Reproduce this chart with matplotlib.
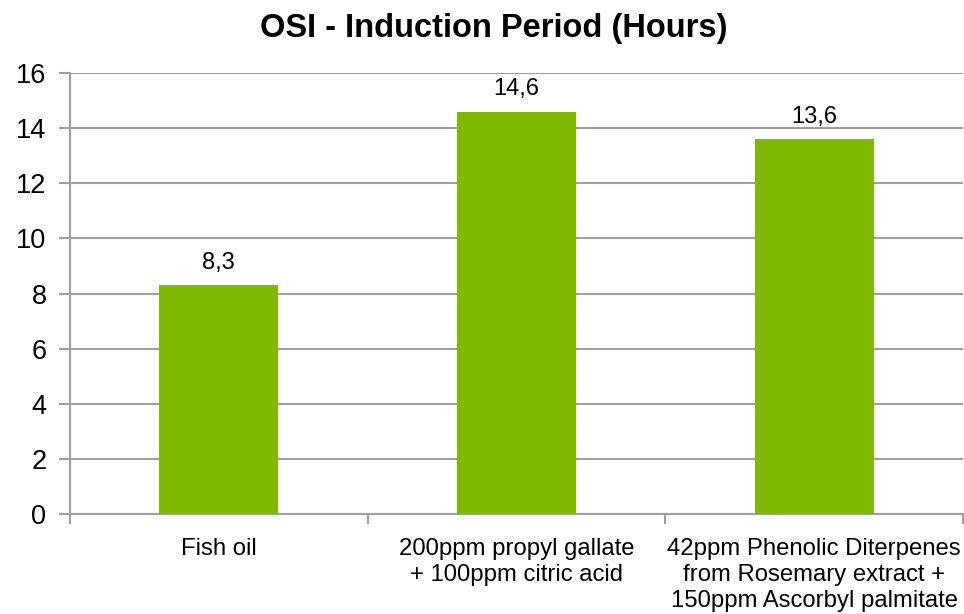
import matplotlib
matplotlib.use('Agg')
import matplotlib.pyplot as plt
import numpy as np

plt.rcParams['font.family'] = ['Liberation Sans', 'DejaVu Sans']

categories = ['Fish oil',
              '200ppm propyl gallate\n+ 100ppm citric acid',
              '42ppm Phenolic Diterpenes\nfrom Rosemary extract +\n150ppm Ascorbyl palmitate']
hours = [8.3, 14.6, 13.6]
value_labels = ['8,3', '14,6', '13,6']
yticks = [0, 2, 4, 6, 8, 10, 12, 14, 16]

fig = plt.figure(figsize=(9.64, 6.14), dpi=100)
ax = fig.add_axes([70 / 964, 1 - 514 / 614, 893 / 964, (514 - 73) / 614])

x = np.arange(len(categories))
bars = ax.bar(x, hours, width=0.4, color='#80ba00', zorder=3)

for b, lab in zip(bars, value_labels):
    ax.annotate(lab, (b.get_x() + b.get_width() / 2, b.get_height()),
                xytext=(0, 8), textcoords='offset points',
                ha='center', va='bottom', fontsize=17)

ax.set_xlim(-0.5, len(categories) - 0.5)
ax.set_ylim(0, 16)
ax.set_yticks(yticks)
ax.yaxis.grid(True, color='#a0a0a0', linewidth=1.5, zorder=0)

ax.set_xticks(x)
ax.set_xticklabels(categories, fontsize=17.2, linespacing=1.26)
ax.set_xticks(np.arange(len(categories) + 1) - 0.5, minor=True)
ax.tick_params(axis='x', which='major', length=0, pad=17)
ax.tick_params(axis='x', which='minor', length=7, width=1.5, color='#a0a0a0')
ax.tick_params(axis='y', length=8, width=1.5, color='#a0a0a0', labelsize=19.5, pad=9)

for side in ['top', 'right']:
    ax.spines[side].set_visible(False)
for side in ['left', 'bottom']:
    ax.spines[side].set_color('#a0a0a0')
    ax.spines[side].set_linewidth(1.5)

fig.text(494 / 964, 1 - 28 / 614, 'OSI - Induction Period (Hours)',
         ha='center', va='center', fontsize=23.5, fontweight='bold')

fig.savefig('out.png', dpi=100)
